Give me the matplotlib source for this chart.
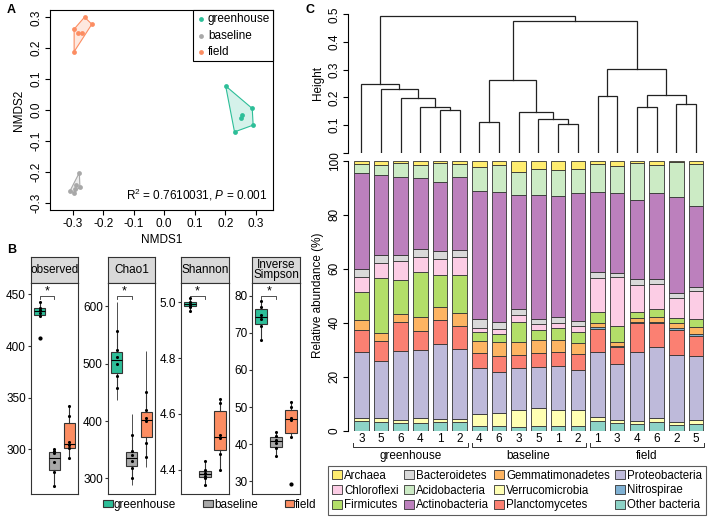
import numpy as np
import matplotlib.pyplot as plt
from matplotlib.patches import Polygon, Patch
from matplotlib.transforms import blended_transform_factory

plt.rcParams['font.family'] = ['Liberation Sans', 'DejaVu Sans']
plt.rcParams['mathtext.fontset'] = 'custom'
plt.rcParams['mathtext.rm'] = 'Liberation Sans'
plt.rcParams['mathtext.it'] = 'Liberation Sans:italic'
plt.rcParams['axes.linewidth'] = 0.8

W, H = 708, 518

# ---------------- data ----------------
groups = ['greenhouse', 'baseline', 'field']
group_colors = ['#2DBE98', '#A8A8A8', '#FC8D62']

# panel A: NMDS scores
nmds1_greenhouse = [0.201, 0.288, 0.291, 0.230, 0.250, 0.256]
nmds2_greenhouse = [0.078, 0.005, -0.049, -0.071, -0.026, -0.016]
nmds1_baseline = [-0.278, -0.308, -0.297, -0.289, -0.276, -0.292]
nmds2_baseline = [-0.203, -0.261, -0.268, -0.243, -0.250, -0.255]
nmds1_field = [-0.295, -0.261, -0.237, -0.281, -0.268, -0.295]
nmds2_field = [0.262, 0.301, 0.278, 0.248, 0.248, 0.189]

# panel B: alpha diversity
metrics = ['observed', 'Chao1', 'Shannon', 'Inverse\nSimpson']
observed_gh = [408, 429, 432, 435, 437, 443]
observed_bl = [265, 278, 288, 296, 298, 300]
observed_fd = [292, 301, 304, 307, 332, 342]
chao1_gh = [458, 478, 500, 512, 524, 557]
chao1_bl = [300, 318, 330, 340, 348, 376]
chao1_fd = [338, 362, 400, 405, 420, 451]
chao1_se_lo = [436, 288, 320]
chao1_se_hi = [608, 412, 522]
shannon_gh = [4.968, 4.985, 4.992, 4.996, 5.002, 5.016]
shannon_bl = [4.345, 4.370, 4.378, 4.388, 4.398, 4.430]
shannon_fd = [4.400, 4.457, 4.512, 4.525, 4.640, 4.655]
invsimpson_gh = [68.2, 72.0, 73.8, 74.8, 77.0, 78.7]
invsimpson_bl = [36.7, 39.0, 40.3, 41.1, 42.2, 43.3]
invsimpson_fd = [29.2, 42.0, 46.4, 47.0, 49.9, 51.4]

# panel C: relative abundance per sample (stack order bottom -> top)
sample_labels = ['3', '5', '6', '4', '1', '2', '4', '6', '3', '5', '1', '2',
                 '1', '3', '4', '6', '2', '5']
sample_groups = ['greenhouse'] * 6 + ['baseline'] * 6 + ['field'] * 6
other_bacteria = [3.7, 3.3, 2.8, 2.9, 3.1, 3.3, 1.8, 1.6, 1.3, 1.6, 1.6, 1.6,
                  3.7, 2.8, 2.5, 3.1, 2.2, 2.6]
verrucomicrobia = [1.0, 1.4, 1.2, 1.8, 1.4, 1.2, 4.3, 5.1, 6.4, 6.7, 6.1, 6.1,
                   1.3, 1.2, 1.2, 1.6, 1.2, 1.4]
proteobacteria = [24.5, 21.2, 25.7, 25.1, 27.5, 26.0, 17.0, 15.1, 15.4, 15.1, 16.2, 14.8,
                  24.0, 20.5, 25.5, 26.1, 24.6, 23.7]
planctomycetes = [8.0, 7.2, 10.4, 7.2, 9.0, 8.4, 5.7, 5.8, 5.1, 5.4, 5.5, 5.8,
                  8.5, 6.3, 10.6, 9.1, 9.3, 7.5]
nitrospirae = [0, 0, 0, 0, 0, 0, 0, 0, 0, 0, 0, 0,
               0.8, 0.4, 0.3, 0.4, 0.6, 0.8]
gemmatimonadetes = [3.9, 3.0, 3.1, 5.0, 4.7, 4.6, 4.4, 5.1, 4.8, 4.7, 4.3, 4.3,
                    1.5, 1.6, 1.8, 1.8, 1.9, 2.5]
firmicutes = [10.3, 20.4, 12.6, 16.9, 12.0, 14.2, 3.2, 3.0, 7.4, 3.7, 4.3, 4.1,
              4.3, 6.0, 1.9, 3.1, 1.8, 2.7]
chloroflexi = [5.7, 5.5, 7.0, 5.4, 5.8, 6.7, 1.7, 1.8, 2.6, 2.2, 2.1, 2.2,
               12.3, 17.9, 10.2, 8.9, 7.4, 10.7]
bacteroidetes = [2.9, 2.8, 2.4, 2.9, 2.9, 2.8, 3.3, 2.6, 2.1, 2.1, 2.2, 1.8,
                 2.2, 1.7, 2.2, 2.2, 2.1, 1.4]
actinobacteria = [35.5, 29.8, 28.6, 26.5, 25.8, 26.8, 47.4, 48.4, 42.2, 45.7, 45.0, 47.2,
                  29.9, 29.7, 29.2, 31.7, 35.6, 30.0]
acidobacteria = [3.5, 3.5, 5.2, 4.6, 7.1, 4.8, 8.7, 9.8, 8.6, 9.5, 9.5, 8.9,
                 10.3, 9.8, 13.6, 10.3, 12.7, 15.5]
archaea = [1.2, 1.6, 1.0, 1.7, 0.7, 1.4, 2.5, 1.7, 4.1, 3.2, 3.5, 3.2,
           1.2, 2.0, 1.0, 1.6, 0.6, 1.2]

phyla = ['Other bacteria', 'Verrucomicrobia', 'Proteobacteria', 'Planctomycetes',
         'Nitrospirae', 'Gemmatimonadetes', 'Firmicutes', 'Chloroflexi',
         'Bacteroidetes', 'Actinobacteria', 'Acidobacteria', 'Archaea']
phylum_colors = ['#8DD3C7', '#FFFFB3', '#BEBADA', '#FB8072', '#80B1D3', '#FDB462',
                 '#B3DE69', '#FCCDE5', '#D9D9D9', '#BC80BD', '#CCEBC5', '#FFED6F']
legend_order = ['Archaea', 'Chloroflexi', 'Firmicutes', 'Bacteroidetes', 'Acidobacteria',
                'Actinobacteria', 'Gemmatimonadetes', 'Verrucomicrobia', 'Planctomycetes',
                'Proteobacteria', 'Nitrospirae', 'Other bacteria']

# hierarchical clustering of samples: [height, left, right], leaves are bar indices
dendro = [0.495,
          [0.247, 0, [0.229, 1, [0.196, 2, [0.164, 3, [0.153, 4, 5]]]]],
          [0.477,
           [0.261, [0.111, 6, 7], [0.148, 8, [0.120, 9, [0.102, 10, 11]]]],
           [0.301, [0.206, 12, 13], [0.210, [0.164, 14, 15], [0.177, 16, 17]]]]]

# ---------------- figure ----------------
fig = plt.figure(figsize=(W / 100, H / 100), dpi=100)


def px_axes(x0, y0, x1, y1):
    return fig.add_axes([x0 / W, 1 - y1 / H, (x1 - x0) / W, (y1 - y0) / H])


def hull(pts):
    pts = sorted(set(pts))
    def cross(o, a, b):
        return (a[0] - o[0]) * (b[1] - o[1]) - (a[1] - o[1]) * (b[0] - o[0])
    lower, upper = [], []
    for p in pts:
        while len(lower) >= 2 and cross(lower[-2], lower[-1], p) <= 0:
            lower.pop()
        lower.append(p)
    for p in reversed(pts):
        while len(upper) >= 2 and cross(upper[-2], upper[-1], p) <= 0:
            upper.pop()
        upper.append(p)
    return lower[:-1] + upper[:-1]


# ---- panel A ----
axA = px_axes(50, 10, 273, 210)
xs = [nmds1_greenhouse, nmds1_baseline, nmds1_field]
ys = [nmds2_greenhouse, nmds2_baseline, nmds2_field]
for g, c, x, y in zip(groups, group_colors, xs, ys):
    h = hull(list(zip(x, y)))
    axA.add_patch(Polygon(h, closed=True, facecolor=c, alpha=0.2, edgecolor='none'))
    axA.add_patch(Polygon(h, closed=True, facecolor='none', edgecolor=c, lw=0.8))
    axA.scatter(x, y, s=12, color=c, label=g, zorder=3, linewidths=0)
axA.set_xlim(-0.374, 0.356)
axA.set_ylim(-0.324, 0.324)
ticks = np.round(np.arange(-0.3, 0.31, 0.1), 1)
axA.set_xticks(ticks, [f'{t:.1f}' for t in ticks])
axA.set_yticks(ticks, [f'{t:.1f}' for t in ticks], rotation=90, va='center')
axA.tick_params(labelsize=8.5, length=3.5, pad=2, width=0.8)
axA.set_xlabel('NMDS1', fontsize=8.5, labelpad=3)
axA.set_ylabel('NMDS2', fontsize=8.5, labelpad=4)
axA.text(0.975, 0.035, r'R$^2$ = 0.7610031, $P$ = 0.001', transform=axA.transAxes,
         ha='right', va='bottom', fontsize=8.5)
axA.legend(loc='upper right', borderaxespad=0, fancybox=False, edgecolor='black',
           fontsize=8.5, handletextpad=0.1, handlelength=0.9, labelspacing=0.4,
           borderpad=0.25, framealpha=1).get_frame().set_linewidth(0.8)

# ---- panel B ----
facet_x = [(30.7, 78.3), (107.7, 155.3), (181, 228.7), (252.3, 300)]
box_data = [[observed_gh, observed_bl, observed_fd],
            [chao1_gh, chao1_bl, chao1_fd],
            [shannon_gh, shannon_bl, shannon_fd],
            [invsimpson_gh, invsimpson_bl, invsimpson_fd]]
ylims = [(256.8, 461), (272.6, 641), (4.312, 5.070), (26.5, 83.5)]
yticks = [[300, 350, 400, 450], [300, 400, 500, 600], [4.4, 4.6, 4.8, 5.0],
          [30, 40, 50, 60, 70, 80]]
edge = '#333333'
for k, ((x0, x1), name, data) in enumerate(zip(facet_x, metrics, box_data)):
    st = px_axes(x0, 257, x1, 283)
    st.set_facecolor('#D9D9D9')
    st.set_xticks([])
    st.set_yticks([])
    for s in st.spines.values():
        s.set_color(edge)
    st.text(0.5, 0.5, name, ha='center', va='center', fontsize=8.5, linespacing=0.85)
    ax = px_axes(x0, 283, x1, 494)
    if k == 1:
        ax.vlines([1, 2, 3], chao1_se_lo, chao1_se_hi, color=edge, lw=0.6, zorder=1)
    bp = ax.boxplot(data, positions=[1, 2, 3], widths=0.78, patch_artist=True,
                    showcaps=False, flierprops=dict(marker='o', markersize=2,
                                                    markerfacecolor='black',
                                                    markeredgecolor='black'),
                    medianprops=dict(color='black', lw=0.8),
                    whiskerprops=dict(color=edge, lw=0.8),
                    boxprops=dict(edgecolor=edge, lw=0.8))
    for patch, c in zip(bp['boxes'], group_colors):
        patch.set_facecolor(c)
    for i, d in enumerate(data):
        ax.scatter([i + 1] * len(d), d, s=5, color='black', zorder=4, linewidths=0)
    ax.set_xlim(0.4, 3.6)
    ax.set_ylim(*ylims[k])
    ax.set_xticks([])
    if k == 2:
        ax.set_yticks(yticks[k], [f'{t:.1f}' for t in yticks[k]])
    else:
        ax.set_yticks(yticks[k])
    ax.tick_params(labelsize=8.5, length=2.5, pad=1, width=0.8, color=edge)
    for s in ax.spines.values():
        s.set_color(edge)
    # significance bracket greenhouse vs baseline
    tr = blended_transform_factory(ax.transData, ax.transAxes)
    ax.plot([1, 1, 2, 2], [0.925, 0.937, 0.937, 0.925], color=edge, lw=0.6,
             transform=tr, clip_on=False)
    ax.text(1.5, 0.93, '*', transform=tr, ha='center', va='bottom', fontsize=9)

fig.legend(handles=[Patch(facecolor=c, edgecolor=edge, lw=0.8) for c in group_colors],
           labels=groups, ncol=3, loc='center', bbox_to_anchor=(210 / W, 1 - 505 / H),
           frameon=False, fontsize=8.5, handlelength=0.8, handleheight=0.55,
           handletextpad=0.1, columnspacing=2.3)

# ---- panel C: dendrogram ----
xl = (-0.66, 17.46)
axD = px_axes(348.3, 14.3, 705, 152.7)


def draw(node):
    if not isinstance(node, list):
        return float(node), 0.0
    h, l, r = node
    xl_, hl = draw(l)
    xr_, hr = draw(r)
    axD.plot([xl_, xl_, xr_, xr_], [hl, h, h, hr], color='#222222', lw=0.9,
             solid_joinstyle='miter')
    return (xl_ + xr_) / 2, h


draw(dendro)
axD.set_xlim(*xl)
axD.set_ylim(0, 0.5)
for s in ['top', 'right', 'bottom']:
    axD.spines[s].set_visible(False)
axD.set_xticks([])
hticks = np.round(np.arange(0, 0.51, 0.1), 1)
# the 0.0 label sits behind the bar panel's 100 label, so leave it blank
axD.set_yticks(hticks, [''] + [f'{t:.1f}' for t in hticks[1:]], rotation=90, va='center')
axD.tick_params(labelsize=8.5, length=3.5, pad=2, width=0.8)
axD.set_ylabel('Height', fontsize=8.5, labelpad=3)

# ---- panel C: stacked bars ----
axC = px_axes(348.3, 160.7, 705, 430.7)
abund = np.array([other_bacteria, verrucomicrobia, proteobacteria, planctomycetes,
                  nitrospirae, gemmatimonadetes, firmicutes, chloroflexi,
                  bacteroidetes, actinobacteria, acidobacteria, archaea])
abund = abund / abund.sum(axis=0) * 100
pos = np.arange(len(sample_labels))
bottom = np.zeros(len(pos))
for name, c, vals in zip(phyla, phylum_colors, abund):
    axC.bar(pos, vals, bottom=bottom, width=0.74, color=c, edgecolor='#333333',
            lw=0.6, label=name)
    bottom += vals
axC.set_xlim(*xl)
axC.set_ylim(0, 100)
for s in ['top', 'right', 'bottom']:
    axC.spines[s].set_visible(False)
axC.set_yticks(range(0, 101, 20), [str(t) for t in range(0, 101, 20)],
               rotation=90, va='center')
axC.set_xticks(pos, sample_labels)
axC.tick_params(axis='y', labelsize=8.5, length=3.5, pad=2, width=0.8)
axC.tick_params(axis='x', labelsize=8.5, length=0, pad=2)
axC.set_ylabel('Relative abundance (%)', fontsize=8.5, labelpad=3)
trC = blended_transform_factory(axC.transData, axC.transAxes)
for g in groups:
    idx = [i for i, s in enumerate(sample_groups) if s == g]
    a, b = idx[0] - 0.4, idx[-1] + 0.4
    axC.plot([a, a, b, b], [-0.046, -0.062, -0.062, -0.046], color='#333333', lw=0.7,
             transform=trC, clip_on=False)
    axC.text((a + b) / 2, -0.07, g, transform=trC, ha='center', va='top', fontsize=8.5)

handles = [Patch(facecolor=phylum_colors[phyla.index(n)], edgecolor='#333333', lw=0.6)
           for n in legend_order]
leg = fig.legend(handles=handles, labels=legend_order, ncol=4, loc='center',
                 bbox_to_anchor=(517 / W, 1 - 490.5 / H), fontsize=8.3,
                 fancybox=False, edgecolor='#333333', handlelength=0.9,
                 handleheight=0.9, handletextpad=0.15, columnspacing=0.45,
                 labelspacing=0.25, borderpad=0.3)
leg.get_frame().set_linewidth(0.8)

# panel letters
for letter, x, y in [('A', 7, 10), ('B', 7, 250), ('C', 306, 10)]:
    fig.text(x / W, 1 - y / H, letter, fontsize=9, fontweight='bold',
             ha='left', va='center')

fig.savefig('out.png', dpi=100)
